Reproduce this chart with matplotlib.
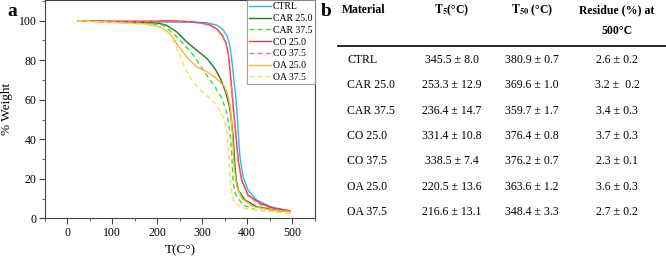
import matplotlib
matplotlib.use("Agg")
import matplotlib.pyplot as plt
from matplotlib.lines import Line2D
from matplotlib.ticker import MultipleLocator

plt.rcParams['font.family'] = ['Liberation Serif', 'DejaVu Serif']
plt.rcParams['mathtext.fontset'] = 'stix'

# ---- TGA curves (temperature °C, % weight) ----
ctrl_T = [23, 100, 200, 280, 310, 332, 347, 356, 362, 367, 371, 374, 377, 380, 384, 391, 402, 421, 451, 495]
ctrl_W = [100, 99.7, 99.4, 99.2, 99.0, 97.8, 95.3, 91.9, 86.8, 78, 69, 63, 55, 44, 31, 21, 14.3, 9.3, 5.9, 3.7]

car25_T = [23, 100, 180, 200, 220, 243, 265, 287, 310, 328, 342, 353, 360, 365, 369, 373, 376, 380, 395, 421, 460, 495]
car25_W = [100, 99.4, 99.0, 98.8, 97.8, 94.4, 89.4, 85.2, 81, 75.9, 70, 63.3, 57, 50, 41, 26, 19, 14.3, 9.3, 5.9, 4.2, 3.4]

car37_T = [23, 100, 180, 213, 235, 257, 280, 295, 310, 328, 342, 353, 358, 362, 365, 369, 373, 377, 391, 421, 460, 495]
car37_W = [100, 99.2, 98.6, 97.8, 93.6, 88.6, 82.6, 77.6, 72.5, 66.6, 61.5, 54.8, 49, 43, 34.6, 18, 13, 10.9, 6.7, 4.2, 3.4, 2.9]

co25_T = [23, 100, 200, 220, 250, 280, 300, 318, 333, 345, 353, 358, 363, 367, 370, 373, 376, 380, 388, 402, 429, 460, 495]
co25_W = [100, 99.7, 99.8, 100, 99.8, 99.4, 98.8, 97.8, 95.8, 92.5, 88.6, 83.5, 72, 62, 54, 47, 40, 29.5, 19.4, 11.8, 7.6, 5.0, 3.8]

co37_T = [23, 100, 200, 240, 280, 300, 318, 333, 345, 353, 358, 363, 367, 370, 373, 376, 380, 388, 402, 429, 460, 495]
co37_W = [100, 99.6, 99.5, 99.6, 99.2, 98.6, 97.5, 95.5, 92.2, 88.2, 83, 71.5, 61.5, 53.5, 46.5, 39.5, 29, 18.8, 11.2, 7.0, 4.4, 3.2]

oa25_T = [23, 100, 170, 205, 228, 243, 265, 287, 310, 331, 350, 358, 363, 367, 371, 377, 388, 414, 450, 495]
oa25_W = [100, 99.2, 98.5, 97, 93.6, 88.6, 81.8, 76.7, 74.2, 70.9, 66.6, 61.5, 55, 43, 26, 16, 10, 5.9, 4.3, 3.4]

oa37_T = [23, 100, 170, 200, 215, 228, 239, 257, 272, 291, 317, 335, 350, 356, 359, 362, 366, 369, 380, 391, 421, 460, 495]
oa37_W = [100, 99.0, 98.2, 97.2, 95.8, 93, 88.5, 78.4, 71.7, 65.8, 60.7, 56.5, 49.7, 42, 32, 20, 12, 9.3, 6.5, 5.1, 4.2, 3.3, 2.8]

series_names = ['CTRL', 'CAR 25.0', 'CAR 37.5', 'CO 25.0', 'CO 37.5', 'OA 25.0', 'OA 37.5']
series_T = [ctrl_T, car25_T, car37_T, co25_T, co37_T, oa25_T, oa37_T]
series_W = [ctrl_W, car25_W, car37_W, co25_W, co37_W, oa25_W, oa37_W]
colors = ['#2fb3ff', '#1e7d1e', '#2fe62f', '#f03535', '#ff6a6a', '#ffb438', '#f7de55']
styles = ['-', '-', '--', '-', '--', '-', '--']

# ---- table ----
tbl_header = ['Material', r'$\mathbf{T_5}$(°C)', r'$\mathbf{T_{50}}$ (°C)', 'Residue (%) at']
tbl_header2 = '500°C'
tbl_material = ['CTRL', 'CAR 25.0', 'CAR 37.5', 'CO 25.0', 'CO 37.5', 'OA 25.0', 'OA 37.5']
tbl_t5 = ['345.5 ± 8.0', '253.3 ± 12.9', '236.4 ± 14.7', '331.4 ± 10.8', '338.5 ± 7.4', '220.5 ± 13.6', '216.6 ± 13.1']
tbl_t50 = ['380.9 ± 0.7', '369.6 ± 1.0', '359.7 ± 1.7', '376.4 ± 0.8', '376.2 ± 0.7', '363.6 ± 1.2', '348.4 ± 3.3']
tbl_res = ['2.6 ± 0.2', '3.2 ±  0.2', '3.4 ± 0.3', '3.7 ± 0.3', '2.3 ± 0.1', '3.6 ± 0.3', '2.7 ± 0.2']

W, H = 666, 256
fig = plt.figure(figsize=(W / 100, H / 100), dpi=100)

def fx(px):
    return px / W

def fy(py):
    return 1 - py / H

ax = fig.add_axes([fx(45), fy(218.3), fx(315) - fx(45), fy(0) - fy(218.3)])
for n, t, w, c, s in zip(series_names, series_T, series_W, colors, styles):
    if s == '--':
        ax.plot(t, w, color=c, lw=1.0, label=n, dashes=(3.5, 2.5))
    else:
        ax.plot(t, w, color=c, lw=1.0, label=n)

ax.set_xlim(-50, 551)
ax.set_ylim(0, 110.5)
ax.xaxis.set_major_locator(MultipleLocator(100))
ax.xaxis.set_minor_locator(MultipleLocator(50))
ax.yaxis.set_major_locator(MultipleLocator(20))
ax.yaxis.set_minor_locator(MultipleLocator(10))
ax.tick_params(which='major', direction='out', length=4, width=0.8, labelsize=8.5, pad=2,
               color='#444444')
ax.tick_params(which='minor', direction='out', length=2.2, width=0.6, color='#444444')
for sp in ax.spines.values():
    sp.set_linewidth(0.8)
    sp.set_color('#444444')
ax.set_xlabel('T(C°)', fontsize=9.5, labelpad=4)
ax.set_ylabel('% Weight', fontsize=9.5, labelpad=4)

leg = ax.legend(loc='upper right', fontsize=7, frameon=True, fancybox=False,
                edgecolor='#888888', handlelength=2.3, handletextpad=0.2,
                labelspacing=0.28, borderpad=0.2, borderaxespad=0.05)
leg.get_frame().set_linewidth(0.8)

fig.text(fx(7), fy(11), 'a', fontsize=14, fontweight='bold', va='center', ha='left')
fig.text(fx(321), fy(11), 'b', fontsize=14, fontweight='bold', va='center', ha='left')

# table
hdr_y = 10
fs = 8.5
fig.text(fx(342), fy(hdr_y), tbl_header[0], fontsize=fs, fontweight='bold', ha='left', va='center')
fig.text(fx(452), fy(hdr_y), tbl_header[1], fontsize=fs, fontweight='bold', ha='center', va='center')
fig.text(fx(532), fy(hdr_y), tbl_header[2], fontsize=fs, fontweight='bold', ha='center', va='center')
fig.text(fx(617), fy(hdr_y), tbl_header[3], fontsize=fs, fontweight='bold', ha='center', va='center')
fig.text(fx(617), fy(31), tbl_header2, fontsize=fs, fontweight='bold', ha='center', va='center')
fig.add_artist(Line2D([fx(338), fx(666)], [fy(45.7), fy(45.7)], color='black', lw=1.2,
                      transform=fig.transFigure))

row_y = [60, 85.5, 111, 136, 161.5, 187, 212]
for y, m, a, b, r in zip(row_y, tbl_material, tbl_t5, tbl_t50, tbl_res):
    fig.text(fx(347), fy(y), m, fontsize=fs, ha='left', va='center')
    fig.text(fx(452), fy(y), a, fontsize=fs, ha='center', va='center')
    fig.text(fx(532), fy(y), b, fontsize=fs, ha='center', va='center')
    fig.text(fx(617), fy(y), r, fontsize=fs, ha='center', va='center')

fig.savefig('out.png', dpi=100)
